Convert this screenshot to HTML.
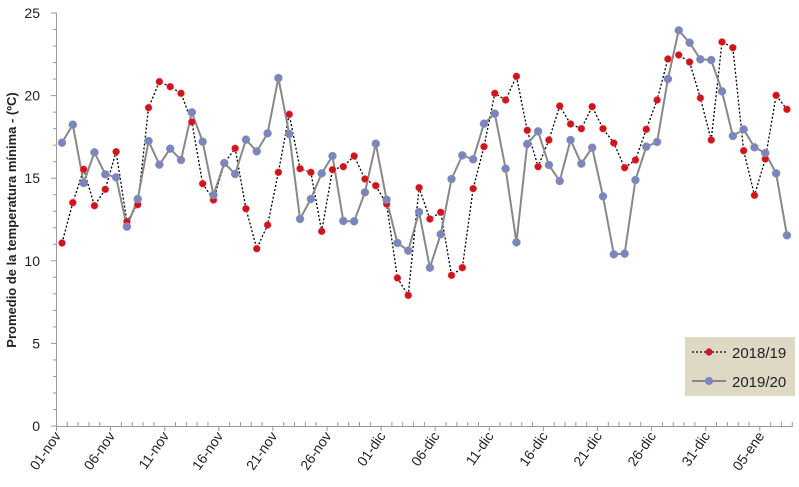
<!DOCTYPE html>
<html><head><meta charset="utf-8"><style>body{margin:0;background:#fff}svg{display:block}text{font-family:"Liberation Sans",sans-serif;fill:#222}</style></head><body>
<svg id="s" width="799" height="487" xmlns="http://www.w3.org/2000/svg"></svg>
<script>
const r1=[729,608,508,617,568,455,665,614,323,245,260,280,366,551,600,490,445,626,746,675,517,343,506,517,694,509,500,468,537,557,612,834,886,563];
const r2=[657,637,826,803,566,440,280,300,229,391,500,420,318,372,386,320,386,429,503,480,388,300,177,165,186,294,420,126,143,452,586,477,286,328];
const b1=[428,374,549,457,523,532,680,597,423,494,446,480,337,425,585,489,522,419,454,400,234,402,657,597,520,468,663,664,577,431,599,729,752,636];
const b2=[803,703,537,466,478,371,341,506,727,432,394,495,543,420,491,443,589,763,761,540,440,426,237,91,128,178,180,274,408,388,442,459,520,706];
const red=r1.concat(r2).map(v=>v/3), blue=b1.concat(b2).map(v=>v/3);
const SP=10.82;
const X=i=>62+i*SP;
let h='';
const Y0=426,U=16.52;
h+=`<line x1="56.5" y1="13" x2="56.5" y2="426" stroke="#999"/>`;
for(let v=0;v<=25;v++){const y=Y0-v*U;const big=v%5==0;h+=`<line x1="${big?51:53}" y1="${y}" x2="56.5" y2="${y}" stroke="#999"/>`;if(big)h+=`<text x="40" y="${y+5}" font-size="14" text-anchor="end">${v}</text>`;}
h+=`<line x1="56.5" y1="426.5" x2="793" y2="426.5" stroke="#999"/>`;
const labs=['01-nov','06-nov','11-nov','16-nov','21-nov','26-nov','01-dic','06-dic','11-dic','16-dic','21-dic','26-dic','31-dic','05-ene'];
for(let d=0;d<=68;d++){const x=56.5+d*SP;const big=d%5==0;h+=`<line x1="${x}" y1="${big?426:422}" x2="${x}" y2="${big?431:426}" stroke="#999"/>`;if(big&&d/5<labs.length)h+=`<text transform="translate(${x+5},436) rotate(-55)" font-size="14" text-anchor="end">${labs[d/5]}</text>`;}
h+=`<text transform="translate(16,220) rotate(-90)" font-size="13" font-weight="bold" text-anchor="middle">Promedio de la temperatura mínima - (ºC)</text>`;
h+=`<polyline fill="none" stroke="#000" stroke-width="1.3" stroke-dasharray="2,2" points="${red.map((y,i)=>X(i)+','+y).join(' ')}"/>`;
h+=`<polyline fill="none" stroke="#888" stroke-width="2" points="${blue.map((y,i)=>X(i)+','+y).join(' ')}"/>`;
red.forEach((y,i)=>h+=`<circle cx="${X(i)}" cy="${y}" r="3.6" fill="#d0141e" stroke="#e88" stroke-width=".5"/>`);
blue.forEach((y,i)=>h+=`<circle cx="${X(i)}" cy="${y}" r="4" fill="#7b86bf" stroke="#99a" stroke-width=".5"/>`);
h+=`<rect x="685" y="337" width="110" height="59" fill="#ddd9c4"/>`;
h+=`<line x1="692" y1="352" x2="726" y2="352" stroke="#000" stroke-dasharray="2,2" stroke-width="1.3"/><circle cx="709" cy="352" r="3.6" fill="#d0141e"/><text x="732" y="358" font-size="15">2018/19</text>`;
h+=`<line x1="692" y1="381" x2="726" y2="381" stroke="#888" stroke-width="2"/><circle cx="709" cy="381" r="4" fill="#7b86bf"/><text x="732" y="387" font-size="15">2019/20</text>`;
document.getElementById('s').innerHTML=h;
</script>
</body></html>
